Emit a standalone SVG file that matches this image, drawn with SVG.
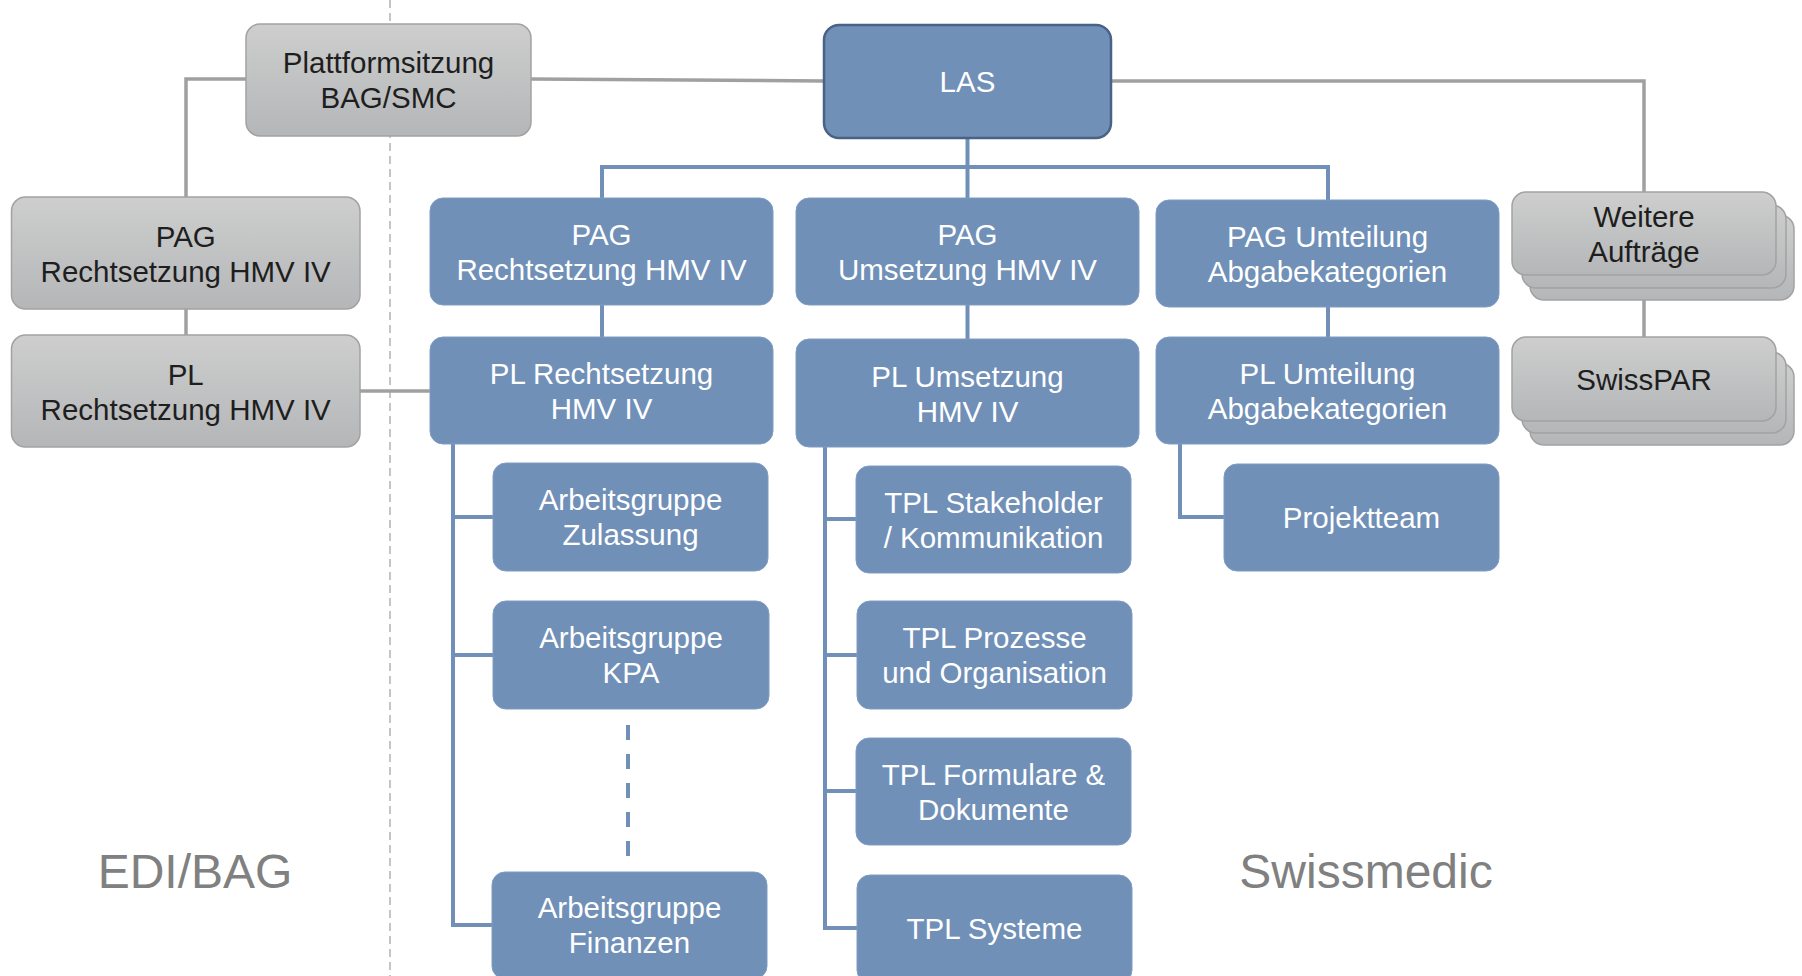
<svg xmlns="http://www.w3.org/2000/svg" width="1802" height="976" viewBox="0 0 1802 976">
<defs>
<linearGradient id="gg" x1="0" y1="0" x2="0" y2="1">
<stop offset="0" stop-color="#CDCECD"/>
<stop offset="1" stop-color="#B5B6B8"/>
</linearGradient>
<style>
.g{fill:url(#gg);stroke:#A2A2A2;stroke-width:1.5}
.b{fill:#7090B8;stroke:#7F9CC2;stroke-width:1}
.las{fill:#7090B8;stroke:#4A6285;stroke-width:2.5}
.t{font-family:"Liberation Sans",Arial,sans-serif;font-size:29.5px;text-anchor:middle}
.tg{fill:#1E1E1E}
.tw{fill:#FFFFFF}
.big{font-family:"Liberation Sans",Arial,sans-serif;font-size:48px;fill:#808080;text-anchor:middle}
.cg{fill:none;stroke:#A0A0A0;stroke-width:3.5}
.cb{fill:none;stroke:#7090B8;stroke-width:4}
</style>
</defs>
<rect width="1802" height="976" fill="#FFFFFF"/>
<line x1="390" y1="0" x2="390" y2="976" stroke="#A6A6A6" stroke-width="1.3" stroke-dasharray="8 5"/>
<g id="connectors">
<path class="cg" d="M531,79 L824,81"/>
<path class="cg" d="M246,79 H186 V198"/>
<path class="cg" d="M186,309 V335"/>
<path class="cg" d="M360,391 H430"/>
<path class="cg" d="M1111,81 H1644 V192"/>
<path class="cg" d="M1644,275 V337"/>
<path class="cb" d="M967.5,138 V198"/>
<path class="cb" d="M602,198 V167 H1328 V200"/>
<path class="cb" d="M602,305 V337"/>
<path class="cb" d="M967.5,305 V339"/>
<path class="cb" d="M1328,307 V337"/>
<path class="cb" d="M453,444 V925 H492 M453,517 H493 M453,655 H493"/>
<path class="cb" d="M628,725 V858" stroke-dasharray="15 14"/>
<path class="cb" d="M825,447 V928 H857 M825,519 H856 M825,655 H857 M825,791 H856"/>
<path class="cb" d="M1180,444 V517 H1224"/>
</g>
<g id="plattform">
<rect class="g" x="246" y="24" width="285" height="112" rx="14"/>
<text class="t tg" x="388.5" y="73">Plattformsitzung</text>
<text class="t tg" x="388.5" y="108">BAG/SMC</text>
</g>
<g id="las">
<rect class="las" x="824" y="25" width="287" height="113" rx="15"/>
<text class="t tw" x="967.5" y="92">LAS</text>
</g>
<g id="pag-gray">
<rect class="g" x="11.5" y="197" width="348.5" height="112" rx="14"/>
<text class="t tg" x="185.7" y="246.5">PAG</text>
<text class="t tg" x="185.7" y="281.5">Rechtsetzung HMV IV</text>
</g>
<g id="pl-gray">
<rect class="g" x="11.5" y="335" width="348.5" height="112" rx="14"/>
<text class="t tg" x="185.7" y="384.5">PL</text>
<text class="t tg" x="185.7" y="419.5">Rechtsetzung HMV IV</text>
</g>
<g id="pag-rechtsetzung">
<rect class="b" x="430" y="198" width="343" height="107" rx="13"/>
<text class="t tw" x="601.5" y="245">PAG</text>
<text class="t tw" x="601.5" y="280">Rechtsetzung HMV IV</text>
</g>
<g id="pag-umsetzung">
<rect class="b" x="796" y="198" width="343" height="107" rx="13"/>
<text class="t tw" x="967.5" y="245">PAG</text>
<text class="t tw" x="967.5" y="280">Umsetzung HMV IV</text>
</g>
<g id="pag-umteilung">
<rect class="b" x="1156" y="200" width="343" height="107" rx="13"/>
<text class="t tw" x="1327.5" y="247">PAG Umteilung</text>
<text class="t tw" x="1327.5" y="282">Abgabekategorien</text>
</g>
<g id="pl-rechtsetzung">
<rect class="b" x="430" y="337" width="343" height="107" rx="13"/>
<text class="t tw" x="601.5" y="384">PL Rechtsetzung</text>
<text class="t tw" x="601.5" y="419">HMV IV</text>
</g>
<g id="pl-umsetzung">
<rect class="b" x="796" y="339" width="343" height="108" rx="13"/>
<text class="t tw" x="967.5" y="386.5">PL Umsetzung</text>
<text class="t tw" x="967.5" y="421.5">HMV IV</text>
</g>
<g id="pl-umteilung">
<rect class="b" x="1156" y="337" width="343" height="107" rx="13"/>
<text class="t tw" x="1327.5" y="384">PL Umteilung</text>
<text class="t tw" x="1327.5" y="419">Abgabekategorien</text>
</g>
<g id="ag-zulassung">
<rect class="b" x="493" y="463" width="275" height="108" rx="13"/>
<text class="t tw" x="630.5" y="510">Arbeitsgruppe</text>
<text class="t tw" x="630.5" y="545">Zulassung</text>
</g>
<g id="ag-kpa">
<rect class="b" x="493" y="601" width="276" height="108" rx="13"/>
<text class="t tw" x="631" y="648">Arbeitsgruppe</text>
<text class="t tw" x="631" y="683">KPA</text>
</g>
<g id="ag-finanzen">
<rect class="b" x="492" y="872" width="275" height="107" rx="13"/>
<text class="t tw" x="629.5" y="918">Arbeitsgruppe</text>
<text class="t tw" x="629.5" y="953">Finanzen</text>
</g>
<g id="tpl-stakeholder">
<rect class="b" x="856" y="466" width="275" height="107" rx="13"/>
<text class="t tw" x="993.5" y="512.5">TPL Stakeholder</text>
<text class="t tw" x="993.5" y="547.5">/ Kommunikation</text>
</g>
<g id="tpl-prozesse">
<rect class="b" x="857" y="601" width="275" height="108" rx="13"/>
<text class="t tw" x="994.5" y="648">TPL Prozesse</text>
<text class="t tw" x="994.5" y="683">und Organisation</text>
</g>
<g id="tpl-formulare">
<rect class="b" x="856" y="738" width="275" height="107" rx="13"/>
<text class="t tw" x="993.5" y="784.5">TPL Formulare &amp;</text>
<text class="t tw" x="993.5" y="819.5">Dokumente</text>
</g>
<g id="tpl-systeme">
<rect class="b" x="857" y="875" width="275" height="108" rx="13"/>
<text class="t tw" x="994.5" y="939">TPL Systeme</text>
</g>
<g id="projektteam">
<rect class="b" x="1224" y="464" width="275" height="107" rx="13"/>
<text class="t tw" x="1361.5" y="528">Projektteam</text>
</g>
<g id="weitere">
<rect class="g" x="1530" y="215" width="264" height="85" rx="14"/>
<rect class="g" x="1522" y="205" width="264" height="83" rx="14"/>
<rect class="g" x="1512" y="192" width="264" height="83" rx="14"/>
<text class="t tg" x="1644" y="226.5">Weitere</text>
<text class="t tg" x="1644" y="261.5">Aufträge</text>
</g>
<g id="swisspar">
<rect class="g" x="1530" y="363" width="264" height="82" rx="14"/>
<rect class="g" x="1522" y="352" width="264" height="81" rx="14"/>
<rect class="g" x="1512" y="337" width="264" height="84" rx="14"/>
<text class="t tg" x="1644" y="389.5">SwissPAR</text>
</g>
<text class="big" x="195" y="888">EDI/BAG</text>
<text class="big" x="1366" y="888">Swissmedic</text>
</svg>
